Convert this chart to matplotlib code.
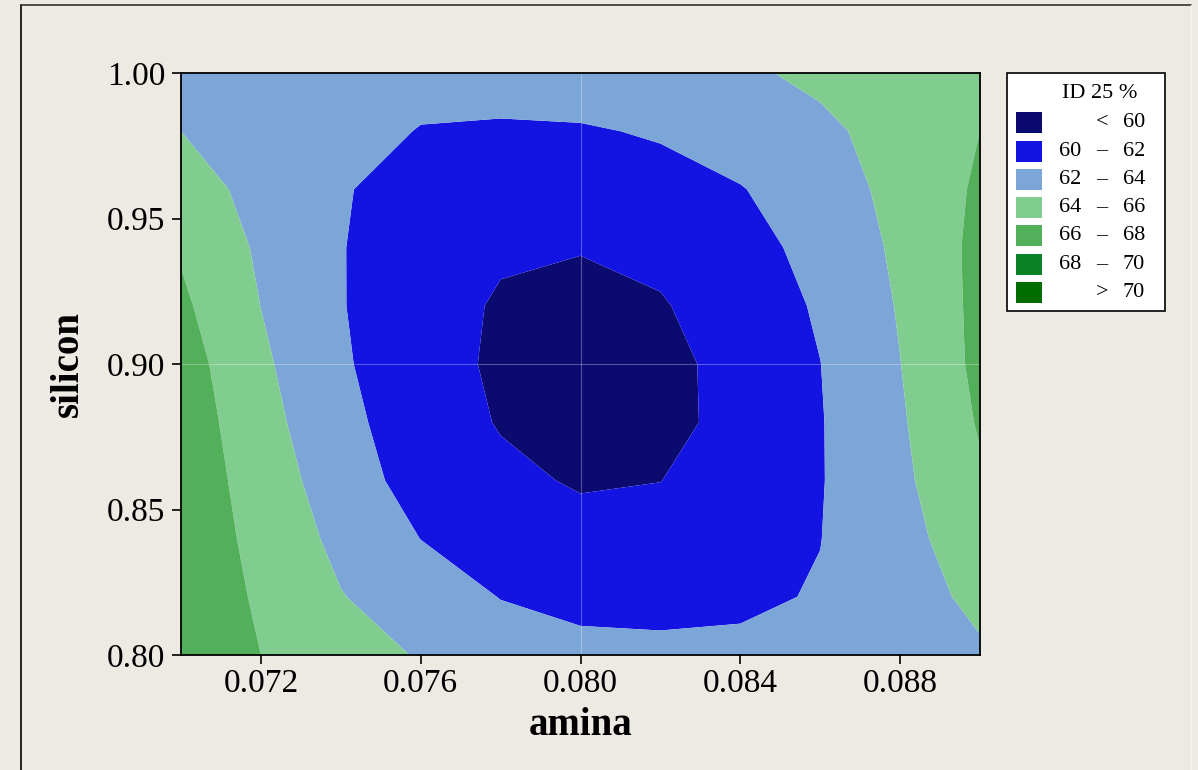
import numpy as np
import matplotlib
matplotlib.use("Agg")
import matplotlib.pyplot as plt
from matplotlib.patches import Rectangle
from matplotlib.lines import Line2D

# ---------------- data ----------------
amina = [0.070, 0.072, 0.074, 0.076, 0.078, 0.080, 0.082, 0.084, 0.086, 0.088, 0.090]
silicon = [0.80, 0.82, 0.84, 0.86, 0.88, 0.90, 0.92, 0.94, 0.96, 0.98, 1.00]

# ID 25 % response, one row per silicon value (bottom to top), columns follow amina
id25 = [
    [67.20, 66.00, 64.91, 63.85, 62.90, 62.50, 62.40, 62.35, 62.70, 63.20, 63.80],
    [67.38, 65.73, 64.08, 62.98, 61.95, 61.50, 61.45, 61.70, 62.12, 63.33, 64.36],
    [67.42, 65.39, 63.52, 61.98, 61.10, 60.62, 60.60, 61.20, 61.97, 63.43, 65.00],
    [67.34, 65.06, 62.99, 61.20, 60.40, 59.82, 59.98, 60.80, 61.90, 63.60, 65.75],
    [67.17, 64.71, 62.52, 61.00, 59.88, 59.55, 59.72, 60.30, 61.90, 63.78, 66.18],
    [66.90, 64.35, 62.25, 60.70, 59.72, 59.46, 59.70, 60.35, 61.98, 63.97, 66.47],
    [66.36, 63.98, 62.09, 60.80, 59.80, 59.63, 59.85, 60.95, 62.21, 64.15, 66.50],
    [65.80, 63.71, 62.08, 60.90, 60.24, 60.06, 60.47, 61.30, 62.60, 64.35, 66.50],
    [64.80, 63.46, 62.09, 61.54, 60.87, 60.77, 61.26, 61.90, 63.11, 64.53, 66.29],
    [64.00, 63.30, 62.61, 61.93, 61.72, 61.80, 62.20, 63.01, 63.60, 64.74, 66.00],
    [63.30, 63.15, 63.00, 62.55, 63.00, 63.20, 63.62, 63.70, 64.40, 65.00, 65.70],
]

band_edges = [0, 60, 62, 64, 66, 68, 70, 100]
band_colors = ["#0B0A6F", "#1313E2", "#7CA6D8", "#80CD8F", "#52AF5A", "#098226", "#006D00"]
legend_lo = ["", "60", "62", "64", "66", "68", ""]
legend_mid = ["<", "\u2013", "\u2013", "\u2013", "\u2013", "\u2013", ">"]
legend_hi = ["60", "62", "64", "66", "68", "70", "70"]
legend_title = "ID 25 %"

xticks = [0.072, 0.076, 0.080, 0.084, 0.088]
yticks = [0.80, 0.85, 0.90, 0.95, 1.00]

# ---------------- figure ----------------
W, H = 1198, 770
BG = "#EDE9E3"
plt.rcParams["font.family"] = ["Liberation Serif", "DejaVu Serif"]

fig = plt.figure(figsize=(W / 100, H / 100), dpi=100, facecolor=BG)


def fx(x):
    return x / W


def fy(y):
    return 1 - y / H


ax_l, ax_r, ax_t, ax_b = 181, 980, 73, 655
ax = fig.add_axes([fx(ax_l), fy(ax_b), (ax_r - ax_l) / W, (ax_b - ax_t) / H])

X, Y = np.meshgrid(amina, silicon)
Z = np.array(id25)
ax.contourf(X, Y, Z, levels=band_edges, colors=band_colors, antialiased=True)

ax.axvline(0.080, color="white", lw=0.8, alpha=0.3)
ax.axhline(0.90, color="white", lw=0.8, alpha=0.3)

ax.set_xlim(0.070, 0.090)
ax.set_ylim(0.80, 1.00)
ax.set_xticks(xticks)
ax.set_xticklabels([f"{t:.3f}" for t in xticks])
ax.set_yticks(yticks)
ax.set_yticklabels([f"{t:.2f}" for t in yticks])
ax.tick_params(axis="both", direction="out", length=6.5, width=1.2, labelsize=24, colors="black")
ax.tick_params(axis="x", pad=3)
ax.tick_params(axis="y", pad=5)
for s in ax.spines.values():
    s.set_linewidth(1.3)
    s.set_color("black")

ax.set_xlabel("amina", fontsize=28, fontweight="bold", labelpad=6)
ax.set_ylabel("silicon", fontsize=28, fontweight="bold", labelpad=14)

# ---------------- legend (drawn in pixel coordinates) ----------------
fig.patches.append(Rectangle((fx(1007), fy(311)), (1165 - 1007) / W, (311 - 73) / H,
                             transform=fig.transFigure, facecolor="white", edgecolor="black",
                             lw=1.2, zorder=2))
fig.text(fx(1100), fy(94), legend_title, fontsize=16, ha="center", va="center")
row_y0, row_dy = 122.7, 28.3
for i, col in enumerate(band_colors):
    yc = row_y0 + i * row_dy
    fig.patches.append(Rectangle((fx(1016), fy(yc + 10.5)), 26 / W, 21 / H,
                                 transform=fig.transFigure, facecolor=col, edgecolor="none",
                                 zorder=3))
    if legend_lo[i]:
        fig.text(fx(1081), fy(yc), legend_lo[i], fontsize=16, ha="right", va="center")
    fig.text(fx(1102), fy(yc), legend_mid[i], fontsize=16, ha="center", va="center")
    fig.text(fx(1123), fy(yc), legend_hi[i], fontsize=16, ha="left", va="center")

# ---------------- outer frame ----------------
fig.lines.append(Line2D([fx(21), fx(21)], [fy(H + 5), fy(5)], transform=fig.transFigure,
                        color="black", lw=1.2))
fig.lines.append(Line2D([fx(21), fx(1191)], [fy(5), fy(5)], transform=fig.transFigure,
                        color="#333333", lw=1.2))
fig.lines.append(Line2D([fx(1191), fx(1191)], [fy(5), fy(H + 5)], transform=fig.transFigure,
                        color="#F6F4F0", lw=1.0))

fig.savefig("out.png", dpi=100, facecolor=BG)
